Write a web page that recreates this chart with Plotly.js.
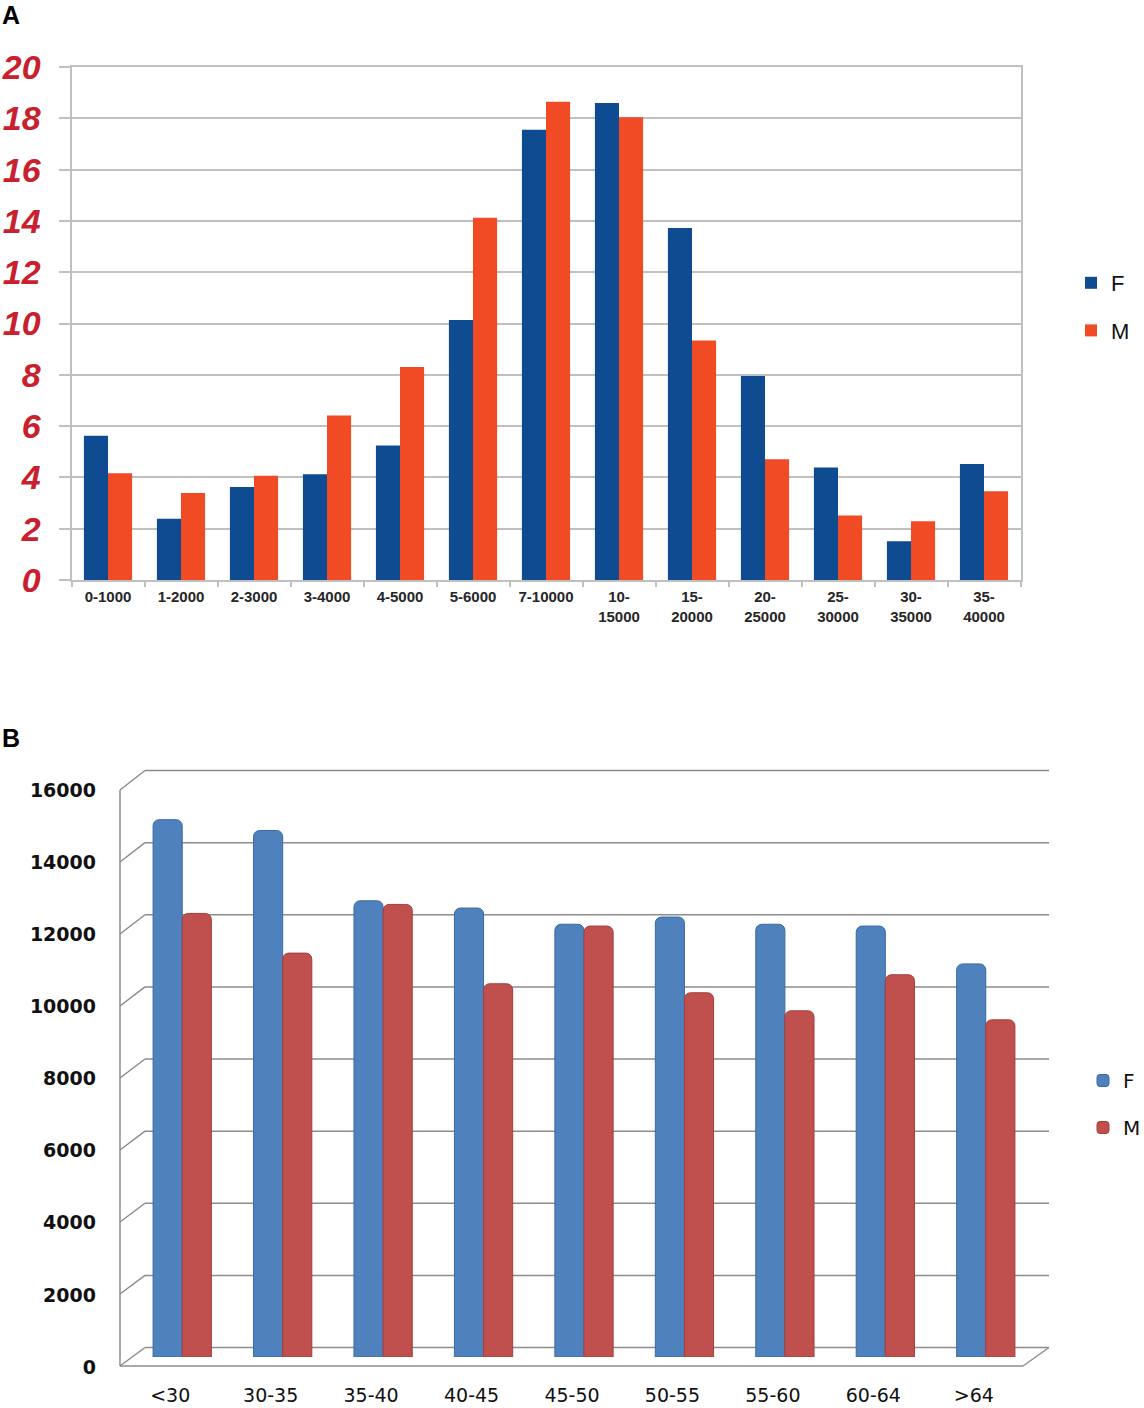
<!DOCTYPE html>
<html>
<head>
<meta charset="utf-8">
<script src="https://cdn.plot.ly/plotly-3.0.1.min.js"></script>
<style>
  html, body { margin: 0; padding: 0; background: #ffffff; }
  #chart { width: 1144px; height: 1408px; }
</style>
</head>
<body>
<div id="chart"></div>
<script>
// ---------- Panel A data ----------
const incomeCategories = ['0-1000','1-2000','2-3000','3-4000','4-5000','5-6000','7-10000','10-15000','15-20000','20-25000','25-30000','30-35000','35-40000'];
const incomeTickLabels = ['0-1000','1-2000','2-3000','3-4000','4-5000','5-6000','7-10000','10-<br>15000','15-<br>20000','20-<br>25000','25-<br>30000','30-<br>35000','35-<br>40000'];
const incomeF = [5.62, 2.39, 3.63, 4.12, 5.24, 10.14, 17.55, 18.60, 13.72, 7.95, 4.39, 1.51, 4.52];
const incomeM = [4.16, 3.39, 4.06, 6.41, 8.30, 14.12, 18.65, 18.04, 9.34, 4.71, 2.51, 2.29, 3.46];

// ---------- Panel B data ----------
const ageCategories = ['<30','30-35','35-40','40-45','45-50','50-55','55-60','60-64','>64'];
const ageTickLabels = ['&lt;30','30-35','35-40','40-45','45-50','50-55','55-60','60-64','&gt;64'];
const ageF = [14900, 14600, 12650, 12450, 12000, 12200, 12000, 11950, 10900];
const ageM = [12300, 11200, 12550, 10350, 11950, 10100, 9600, 10600, 9350];
const ageTicks = [0, 2000, 4000, 6000, 8000, 10000, 12000, 14000, 16000];
const ageMax = 16000;

const W = 1144, H = 1408;
const px = v => v / W;
const py = v => 1 - v / H;

const gridA = '#c0c0c0';
const gridB = '#8c8c8c';

// planes of the pseudo-3D frame of panel B (page pixels)
const back  = { x0: 145, x1: 1049, yb: 1347.5, yt: 770.5 };
const front = { x0: 120, x1: 1023, yb: 1366,   yt: 790   };
const mid   = { x0: 132, x1: 1036, yb: 1357,   yt: 780   };

const traces = [
  { type: 'bar', name: 'F', x: incomeCategories, y: incomeF, xaxis: 'x', yaxis: 'y',
    width: 0.33, offset: -0.33, marker: { color: '#0e4b91' }, legend: 'legend', legendgroup: 'aF', hoverinfo: 'x+y' },
  { type: 'bar', name: 'M', x: incomeCategories, y: incomeM, xaxis: 'x', yaxis: 'y',
    width: 0.33, offset: 0, marker: { color: '#f04b24' }, legend: 'legend', legendgroup: 'aM', hoverinfo: 'x+y' },
  { type: 'bar', name: 'F', x: ageCategories, y: ageF, xaxis: 'x2', yaxis: 'y2',
    width: 0.29, offset: -0.29, marker: { color: '#4f81bd', line: { color: '#3a6aa3', width: 1 }, cornerradius: 6 },
    legend: 'legend2', legendgroup: 'bF', hoverinfo: 'x+y' },
  { type: 'bar', name: 'M', x: ageCategories, y: ageM, xaxis: 'x2', yaxis: 'y2',
    width: 0.29, offset: 0, marker: { color: '#c0504d', line: { color: '#a33e3b', width: 1 }, cornerradius: 6 },
    legend: 'legend2', legendgroup: 'bM', hoverinfo: 'x+y' }
];

// paper y of a value on a given plane
const planeY = (plane, v) => py(plane.yb) + (v / ageMax) * (py(plane.yt) - py(plane.yb));
const frameLine = (x0, y0, x1, y1) => ({ type: 'line', xref: 'paper', yref: 'paper', layer: 'below',
  x0: x0, y0: y0, x1: x1, y1: y1, line: { color: gridB, width: 1.5 } });

const shapes = [];
ageTicks.forEach(v => {
  // back-wall gridline
  shapes.push(frameLine(px(back.x0), planeY(back, v), px(back.x1), planeY(back, v)));
  // side-wall stub from the front axis to the back wall
  shapes.push(frameLine(px(front.x0), planeY(front, v), px(back.x0), planeY(back, v)));
});
// front vertical axis line
shapes.push(frameLine(px(front.x0), planeY(front, 0), px(front.x0), planeY(front, ageMax)));
// front floor edge
shapes.push(frameLine(px(front.x0), planeY(front, 0), px(front.x1), planeY(front, 0)));
// floor right edge
shapes.push(frameLine(px(front.x1), planeY(front, 0), px(back.x1), planeY(back, 0)));

const layout = {
  width: W, height: H,
  margin: { l: 0, r: 0, t: 0, b: 0, autoexpand: false },
  paper_bgcolor: '#ffffff',
  plot_bgcolor: 'rgba(0,0,0,0)',
  barmode: 'overlay',
  showlegend: true,
  font: { family: 'Liberation Sans, Arial, sans-serif', color: '#000000' },
  xaxis: {
    domain: [px(71.5), px(1020.5)], anchor: 'y', type: 'category',
    categoryorder: 'array', categoryarray: incomeCategories,
    tickvals: incomeCategories, ticktext: incomeTickLabels,
    range: [-0.5, 12.5],
    showline: true, linecolor: gridA, linewidth: 2, mirror: true,
    showgrid: false, ticks: 'outside', tickson: 'boundaries', ticklen: 5, tickcolor: gridA, tickwidth: 2,
    ticklabelstandoff: 2,
    tickfont: { family: 'Liberation Sans, Arial, sans-serif', size: 15, weight: 'bold', color: '#262626' },
    fixedrange: true
  },
  yaxis: {
    domain: [py(580), py(67)], anchor: 'x', range: [0, 20], dtick: 2, tick0: 0,
    showgrid: true, gridcolor: gridA, gridwidth: 2, zeroline: false,
    showline: true, linecolor: gridA, linewidth: 2, mirror: true,
    ticks: 'outside', ticklen: 11, tickcolor: gridA, tickwidth: 2,
    ticklabelstandoff: 11,
    tickfont: { family: 'Liberation Sans, Arial, sans-serif', size: 34, weight: 'bold', style: 'italic', color: '#c8202c' },
    fixedrange: true
  },
  // panel B: bars sit on the middle depth plane; labels are shifted onto the front plane
  xaxis2: {
    domain: [px(mid.x0), px(mid.x1)], anchor: 'y2', type: 'category',
    categoryorder: 'array', categoryarray: ageCategories, range: [-0.5, 8.5],
    tickvals: ageCategories, ticktext: ageTickLabels,
    showline: false, showgrid: false, zeroline: false, ticks: '',
    ticklabelshift: -12, ticklabelstandoff: 25,
    tickfont: { family: 'DejaVu Sans, Verdana, sans-serif', size: 19, color: '#111111' },
    fixedrange: true
  },
  yaxis2: {
    domain: [py(mid.yb), py(mid.yt)], anchor: 'x2', range: [0, ageMax], tickvals: ageTicks,
    tickformat: 'd',
    showline: false, showgrid: false, zeroline: false, ticks: '',
    ticklabelshift: 10, ticklabelstandoff: 35,
    tickfont: { family: 'DejaVu Sans, Verdana, sans-serif', size: 19, weight: 'bold', color: '#111111' },
    fixedrange: true
  },
  legend: {
    x: px(1071), y: py(307), xanchor: 'left', yanchor: 'middle',
    bgcolor: 'rgba(0,0,0,0)', tracegroupgap: 16,
    font: { family: 'Liberation Sans, Arial, sans-serif', size: 22, color: '#111111' }
  },
  legend2: {
    x: px(1083), y: py(1104), xanchor: 'left', yanchor: 'middle',
    bgcolor: 'rgba(0,0,0,0)', tracegroupgap: 18,
    font: { family: 'DejaVu Sans, Verdana, sans-serif', size: 20, color: '#111111' }
  },
  annotations: [
    { text: '<b>A</b>', xref: 'paper', yref: 'paper', x: px(0), y: py(15), xanchor: 'left', yanchor: 'middle',
      showarrow: false, font: { family: 'Liberation Sans, Arial, sans-serif', size: 25, color: '#000000' } },
    { text: '<b>B</b>', xref: 'paper', yref: 'paper', x: px(0), y: py(738), xanchor: 'left', yanchor: 'middle',
      showarrow: false, font: { family: 'Liberation Sans, Arial, sans-serif', size: 25, color: '#000000' } }
  ],
  shapes: shapes
};

Plotly.newPlot('chart', traces, layout, { displayModeBar: false, staticPlot: true });
</script>
</body>
</html>
